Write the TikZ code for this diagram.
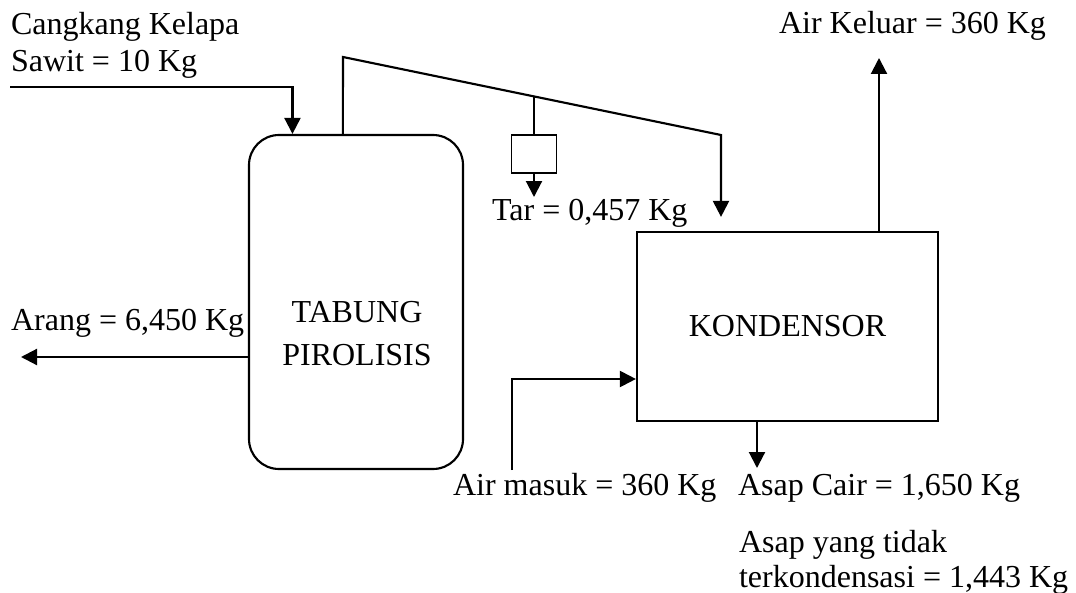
\documentclass[tikz,border=0pt]{standalone}
\usepackage{fontspec}
\setmainfont{Liberation Serif}
\usetikzlibrary{arrows.meta, calc}

\begin{document}
\begin{tikzpicture}[
  x=0.375pt, y=-0.375pt,
  line width=0.8pt,
  txt/.style={font=\fontsize{12}{13.9}\selectfont, inner sep=0pt},
  unit/.style={draw, line width=0.8pt, inner sep=0pt, font=\fontsize{12}{14}\selectfont},
  flow/.style={-{Triangle[length=6pt, width=6pt]}},
]
\useasboundingbox (0,0) rectangle (1076,592);

\node[unit, rounded corners=11.25pt, minimum width=80.25pt, minimum height=125.25pt] (tabung) at (356,302) {};
\node[unit, minimum width=112.9pt, minimum height=70.9pt] (kond) at (787.5,326.5) {KONDENSOR};
\node[unit, line width=0.6pt, minimum width=16.9pt, minimum height=14.25pt] (tar) at (534,154) {};

\node[txt, anchor=base west, align=left] (feedlbl) at (10,72) {Cangkang Kelapa\\Sawit = 10 Kg};
\node[txt, anchor=base west] (keluarlbl) at (778,34) {Air Keluar = 360 Kg};
\node[txt, anchor=base west] (tarlbl) at (491,220) {Tar = 0,457 Kg};
\node[txt, anchor=base west] (aranglbl) at (10,330) {Arang = 6,450 Kg};
\node[txt, anchor=base, align=center, font=\fontsize{12}{16.1}\selectfont] (tabunglbl) at (357,365) {TABUNG\\PIROLISIS};
\node[txt, anchor=base west] (masuklbl) at (452,495) {Air masuk = 360 Kg};
\node[txt, anchor=base west] (cairlbl) at (737,495) {Asap Cair = 1,650 Kg};
\node[txt, anchor=base west, align=left, font=\fontsize{12}{13.1}\selectfont] (sisalbl) at (738,587) {Asap yang tidak\\terkondensasi = 1,443 Kg};

\coordinate (feed) at (10,87);
\coordinate (v1) at (343,57);
\coordinate (v2) at (721,135);
\coordinate (tarjoin) at ($(v1)!0.505!(v2)$);
\coordinate (tarout) at (534,197);
\coordinate (arang) at (21,357);
\coordinate (airin) at (512,470);
\coordinate (airjoint) at (512,379);
\coordinate (asap) at (757,468);
\coordinate (airout) at (879,58);

\draw[flow] (feed) -| ($(tabung.north west)!0.206!(tabung.north east)$);
\draw[flow, shorten >=5.25pt] ($(tabung.north west)!0.439!(tabung.north east)$) -- (v1) -- (v2) -- (v2 |- kond.north);
\draw (tarjoin -| tar.north) -- (tar.north);
\draw[flow] (tar.south) -- (tarout);
\draw[flow] (tabung.west |- arang) -- (arang);
\draw[flow] (airin) -- (airjoint) -- (airjoint -| kond.west);
\draw[flow] (kond.south -| asap) -- (asap);
\draw[flow] (kond.north -| airout) -- (airout);
\end{tikzpicture}
\end{document}
